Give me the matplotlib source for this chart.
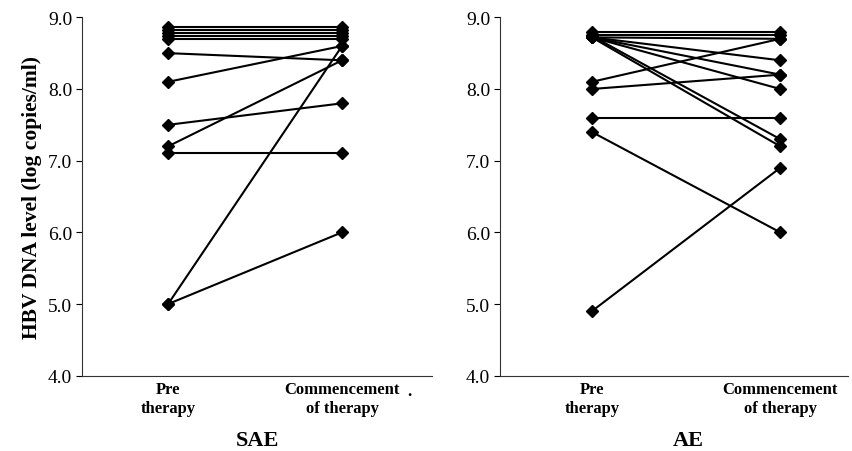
import matplotlib
matplotlib.use("Agg")
import matplotlib.pyplot as plt

timepoints = ["Pre\ntherapy", "Commencement\nof therapy"]

sae_pre = [8.86, 8.82, 8.78, 8.74, 8.70, 8.5, 8.1, 7.5, 7.2, 7.1, 5.0, 5.0]
sae_post = [8.86, 8.82, 8.78, 8.74, 8.70, 8.4, 8.6, 7.8, 8.4, 7.1, 8.6, 6.0]

ae_pre = [8.80, 8.76, 8.72, 8.1, 8.0, 7.6, 7.4, 4.9, 8.72, 8.72, 8.72, 8.74, 8.72]
ae_post = [8.80, 8.76, 8.70, 8.7, 8.2, 7.6, 6.0, 6.9, 8.4, 8.2, 8.0, 7.3, 7.2]

yticks = [4.0, 5.0, 6.0, 7.0, 8.0, 9.0]

plt.rcParams['font.family'] = ['Liberation Serif', 'DejaVu Serif']

fig = plt.figure(figsize=(8.53, 4.52), dpi=100)
ax1 = fig.add_axes([82/853, 0.1666, 350/853, 0.9595-0.1666])
ax2 = fig.add_axes([500/853, 0.1666, 348/853, 0.9595-0.1666])

def draw(ax, pre, post, xlim, title, cx):
    for a, b in zip(pre, post):
        ax.plot([0, 1], [a, b], color='black', lw=1.5, marker='D', ms=6,
                markerfacecolor='black', markeredgecolor='black', clip_on=False)
    ax.set_xlim(*xlim)
    ax.set_ylim(4.0, 9.0)
    ax.set_yticks(yticks)
    ax.set_yticklabels([f"{v:.1f}" for v in yticks], fontsize=14)
    ax.set_xticks([0, 1])
    ax.set_xticklabels(timepoints, fontsize=12, fontweight='bold', linespacing=1.2)
    ax.tick_params(axis='x', length=0, pad=4)
    ax.tick_params(axis='y', length=4, width=0.8, direction='out', pad=3)
    ax.spines['top'].set_visible(False)
    ax.spines['right'].set_visible(False)
    ax.spines['left'].set_color('#333333')
    ax.spines['bottom'].set_color('#333333')
    fig.text(cx, 1 - 441/452, title, ha='center', va='center',
             fontsize=16, fontweight='bold')

draw(ax1, sae_pre, sae_post, (-0.495, 1.517), "SAE", 258/853)
draw(ax2, ae_pre, ae_post, (-0.488, 1.36), "AE", 688/853)

fig.text(409/853, 1 - 392/452, ".", ha='center', va='center', fontsize=12, fontweight='bold')

ax1.set_ylabel("HBV DNA level (log copies/ml)", fontsize=15.5, fontweight='bold', labelpad=4)

fig.savefig("out.png", dpi=100)
